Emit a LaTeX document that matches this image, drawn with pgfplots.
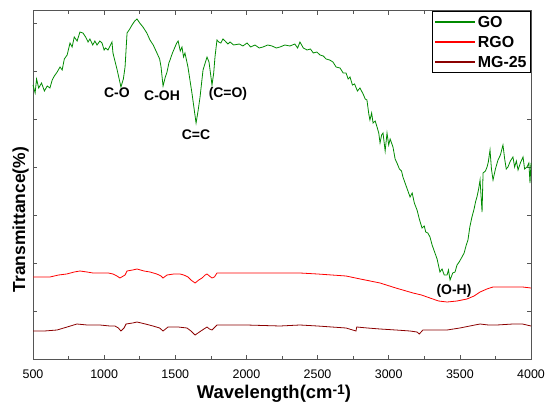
\documentclass[border=0pt]{standalone}
\usepackage{pgfplots}
\pgfplotsset{compat=1.18}
\usetikzlibrary{calc}
\usepackage{fontspec}
\setmainfont{Liberation Sans}
\definecolor{cGO}{HTML}{008A00}
\definecolor{cRGO}{HTML}{FF0000}
\definecolor{cMG}{HTML}{8B0000}
\definecolor{axgray}{HTML}{555555}
\begin{document}
\begin{tikzpicture}
\begin{axis}[
  scale only axis, width=498bp, height=348bp,
  xmin=500, xmax=4000, ymin=0, ymax=348,
  xtick={500,1000,...,4000}, minor x tick num=1,
  ytick={0,48,...,336}, yticklabels={},
  major tick length=4bp, minor tick length=3bp,
  tick style={axgray, line width=0.6pt},
  axis line style={axgray, line width=1pt},
  /pgf/number format/assume math mode=true,
  /pgf/number format/1000 sep={},
  tick label style={font=\fontsize{12.5}{14}\selectfont},
  xticklabel style={yshift=-7bp},
  xlabel={\textbf{Wavelength(cm\raisebox{4bp}{\fontsize{14}{14}\selectfont -1})}},
  ylabel={\textbf{Transmittance(\%)}},
  xlabel style={font=\fontsize{18.5}{20}\selectfont, at={(ticklabel cs:0.484)}, yshift=0bp},
  ylabel style={font=\fontsize{17.5}{20}\selectfont, at={(ticklabel cs:0.4)}, yshift=-6bp},
  legend style={at={(rel axis cs:1,1)}, anchor=north east, draw=black,
    line width=0.9pt, font=\fontsize{16}{18}\selectfont\bfseries,
    inner xsep=2bp, inner ysep=2.5bp, row sep=3.5bp, legend cell align=left,
    nodes={text height=11.5bp, text depth=1bp}},
  legend image code/.code={\draw[#1, line width=1.4pt] (0bp,0bp) -- (40bp,0bp);},
  every axis plot/.append style={line width=0.8pt},
  clip=false,
]
% GO
\addplot[cGO] coordinates {
(500,274)(515,266)(525,280)(540,271)(560,276)(580,268)(600,273)(619,271)(635,279)(650,283)(670,287)(690,292)(705,289)(720,300)(740,304)(760,316)(775,312)(790,322)(810,318)(830,327)(851,326)(870,322)(887,317)(900,320)(920,314)(935,318)(950,314)(970,318)(985,316)(1000,309)(1010,311)(1027,309)(1045,314)(1055,317)(1062,306)(1090,290)(1118,272)(1135,280)(1147,292)(1161,326)(1180,330)(1196,334)(1215,338)(1231,340)(1250,336)(1273,332)(1300,326)(1322,319)(1345,314)(1371,306)(1390,300)(1400,292)(1414,273)(1430,282)(1442,287)(1455,296)(1463,299)(1480,306)(1498,312)(1510,316)(1520,318)(1535,308)(1547,312)(1558,302)(1568,306)(1589,292)(1617,266)(1646,236)(1660,248)(1674,262)(1695,289)(1710,296)(1723,302)(1737,297)(1758,274)(1770,286)(1779,302)(1793,319)(1805,317)(1820,316)(1835,320)(1850,318)(1870,315)(1885,317)(1910,314)(1950,315)(1975,313)(2004,316)(2030,312)(2060,314)(2090,311)(2116,312)(2150,314)(2180,313)(2210,311)(2236,312)(2270,314)(2306,313)(2340,315)(2360,311)(2376,317)(2400,311)(2426,309)(2450,310)(2470,306)(2495,307)(2517,304)(2540,303)(2560,300)(2585,299)(2608,297)(2630,292)(2658,291)(2680,286)(2700,286)(2715,280)(2728,282)(2745,274)(2760,275)(2780,268)(2798,271)(2820,265)(2835,260)(2847,259)(2860,245)(2868,239)(2880,246)(2890,236)(2905,238)(2918,232)(2930,226)(2939,216)(2950,224)(2960,226)(2975,208)(2988,226)(3000,214)(3010,220)(3030,212)(3045,200)(3058,196)(3075,190)(3090,188)(3100,182)(3120,174)(3135,168)(3150,162)(3165,166)(3180,156)(3199,149)(3215,140)(3234,131)(3250,133)(3260,127)(3275,126)(3290,122)(3305,114)(3325,106)(3340,100)(3360,87)(3375,90)(3390,84)(3410,84)(3420,89)(3431,79)(3450,86)(3466,87)(3480,94)(3495,97)(3515,102)(3530,106)(3545,114)(3557,119)(3570,132)(3585,142)(3600,150)(3610,157)(3620,162)(3632,170)(3642,179)(3656,147)(3663,186)(3680,188)(3691,192)(3700,197)(3712,209)(3722,190)(3733,179)(3750,190)(3768,199)(3785,204)(3803,214)(3815,200)(3826,190)(3838,192)(3855,198)(3873,202)(3885,192)(3897,198)(3909,189)(3925,196)(3944,202)(3955,190)(3972,192)(3985,196)(3993,176)(4000,196)
};
\addlegendentry{GO}
% RGO
\addplot[cRGO] coordinates {
(500,82)(560,82)(619,82)(680,84)(737,85)(790,87)(830,88)(880,87)(922,86)(980,86)(1030,86)(1062,85)(1090,83)(1111,81)(1135,83)(1147,84)(1161,88)(1200,89)(1231,90)(1280,88)(1322,87)(1370,85)(1400,83)(1414,81)(1442,84)(1490,85)(1533,85)(1560,84)(1589,82)(1610,79)(1639,76)(1665,79)(1688,81)(1710,84)(1723,85)(1740,83)(1758,81)(1775,82)(1793,86)(1900,86)(2000,86)(2150,86)(2236,86)(2376,86)(2500,85)(2600,84)(2700,83)(2800,80)(2870,78)(2939,76)(3050,71)(3171,66)(3230,64)(3290,61)(3350,58)(3410,57)(3480,58)(3550,60)(3600,63)(3642,67)(3690,70)(3733,72)(3800,72)(3873,72)(3940,72)(4000,71)
};
\addlegendentry{RGO}
% MG-25
\addplot[cMG] coordinates {
(500,28)(580,28)(669,29)(740,32)(809,35)(880,34)(970,34)(1040,33)(1076,33)(1100,31)(1118,28)(1140,31)(1154,35)(1200,36)(1231,37)(1290,35)(1343,33)(1390,31)(1414,28)(1449,32)(1520,32)(1582,31)(1610,28)(1639,24)(1680,28)(1723,32)(1740,30)(1758,29)(1793,34)(1900,34)(2000,34)(2236,33)(2376,34)(2500,33)(2600,32)(2700,31)(2770,28)(2775,32)(2850,31)(2939,30)(3050,29)(3150,28)(3199,27)(3215,25)(3240,29)(3300,29)(3410,29)(3500,31)(3570,33)(3642,35)(3700,34)(3760,34)(3873,35)(3940,35)(4000,33)
};
\addlegendentry{MG-25}
\begin{scope}[font=\fontsize{14}{16}\selectfont\bfseries]
\node at (axis cs:1090,266) {C-O};
\node at (axis cs:1407,263) {C-OH};
\node at (axis cs:1646,224) {C=C};
\node at (axis cs:1870,265) {(C=O)};
\node at (axis cs:3459,68) {(O-H)};
\end{scope}
\coordinate (bl) at (rel axis cs:0,0);
\coordinate (tr) at (rel axis cs:1,1);
\end{axis}
\pgfresetboundingbox
\path[use as bounding box] ($(bl)+(-33bp,-46bp)$) rectangle ($(tr)+(18bp,11bp)$);
\end{tikzpicture}
\end{document}
